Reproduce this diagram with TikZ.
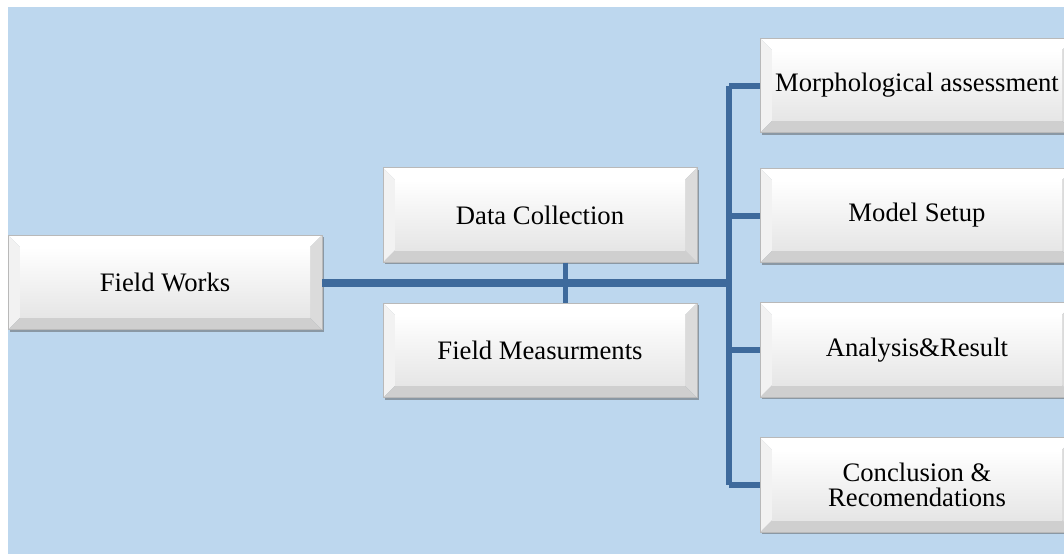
\documentclass[tikz,border=0pt]{standalone}
\usepackage{fontspec}
\setmainfont{Liberation Serif}
\usetikzlibrary{calc,shadows}

\definecolor{bgblue}{RGB}{189,215,238}
\definecolor{linkblue}{RGB}{62,106,156}

\tikzset{
  bevelbox/.style={rectangle, draw=gray!55, line width=0.6pt,
    minimum width=235.5pt, minimum height=71pt, inner sep=0pt, align=center,
    font=\fontsize{20}{18.5}\selectfont,
    drop shadow={shadow xshift=1.5pt, shadow yshift=-1.5pt, opacity=0.45, fill=black!70},
    path picture={
      \coordinate (nw) at (path picture bounding box.north west);
      \coordinate (ne) at (path picture bounding box.north east);
      \coordinate (sw) at (path picture bounding box.south west);
      \coordinate (se) at (path picture bounding box.south east);
      \coordinate (inw) at ($(nw)+(9pt,-9pt)$);
      \coordinate (ine) at ($(ne)+(-9pt,-9pt)$);
      \coordinate (isw) at ($(sw)+(9pt,9pt)$);
      \coordinate (ise) at ($(se)+(-9pt,9pt)$);
      \fill[white] (nw) -- (ne) -- (ine) -- (inw) -- cycle;
      \fill[gray!10] (nw) -- (inw) -- (isw) -- (sw) -- cycle;
      \fill[gray!28] (ne) -- (se) -- (ise) -- (ine) -- cycle;
      \fill[gray!38] (sw) -- (se) -- (ise) -- (isw) -- cycle;
      \shade[top color=white, bottom color=gray!20] (inw) rectangle (ise);
    }},
  link/.style={draw=linkblue, line width=4.5pt},
}

\begin{document}
\begin{tikzpicture}[x=0.75pt,y=-0.75pt]

      \useasboundingbox (0,0) rectangle (1064,554);
      \clip (0,0) rectangle (1064,554);
      \fill[bgblue] (8,7) rectangle (1064,554);

      \begin{scope}[every node/.style={bevelbox}]
        \node (1)  at (165,282.5)  {Field Works};
        \node (2)  at (540,215)    {Data Collection};
        \node (3)  at (540,350.5)  {Field Measurments};
        \node (4)  at (917,85.5)   {Morphological assessment};
        \node (5)  at (917,215.5)  {Model Setup};
        \node (6)  at (917,350)    {Analysis\&Result};
        \node (7)  at (917,485)    {Conclusion \&\\Recomendations};
      \end{scope}

      \coordinate (mid) at (565,282.5);
      \coordinate (bus) at (729,282.5);

      \begin{scope}[every path/.style={link}]
        \draw[line width=6pt] (1.east) -- (bus);
        \draw[line width=3.75pt] (mid |- 2.south) -- (mid |- 3.north);
        \draw (bus |- 4.west) -- (bus |- 7.west);
        \draw (bus |- 4.west) -- (4.west);
        \draw (bus |- 5.west) -- (5.west);
        \draw (bus |- 6.west) -- (6.west);
        \draw (bus |- 7.west) -- (7.west);
      \end{scope}

    \end{tikzpicture}
\end{document}
